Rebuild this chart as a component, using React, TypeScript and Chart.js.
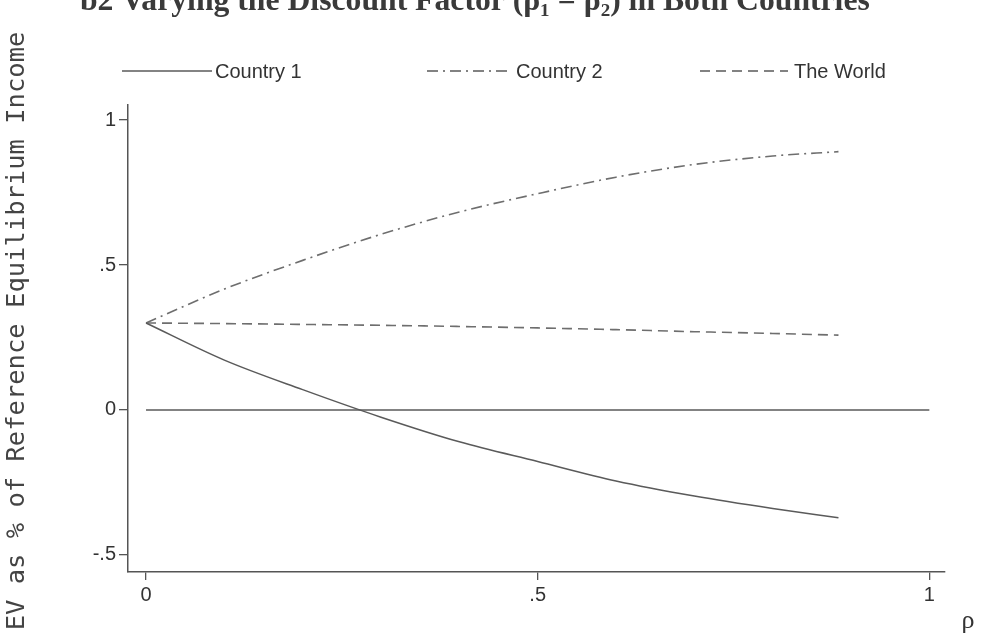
import React, { useEffect, useRef } from "react";
import { Chart, registerables } from "chart.js";

Chart.register(...registerables);

const rho = [0, 0.1, 0.2, 0.3, 0.4, 0.5, 0.6, 0.7, 0.8, 0.884];
const country1 = [0.3, 0.172, 0.07, -0.025, -0.11, -0.178, -0.245, -0.297, -0.34, -0.372];
const country2 = [0.3, 0.417, 0.516, 0.606, 0.683, 0.746, 0.803, 0.847, 0.876, 0.891];
const world = [0.3, 0.298, 0.295, 0.292, 0.288, 0.283, 0.277, 0.27, 0.264, 0.258];
const zeroX = [0, 1];
const zeroY = [0, 0];
const xTicks = [0, 0.5, 1];
const yTicks = [-0.5, 0, 0.5, 1];
const seriesLabels = ["Country 1", "Country 2", "The World"];
const titleText = "b2 Varying the Discount Factor (\u03c1\u2081 = \u03c1\u2082) in Both Countries";
const yTitle = "EV as % of Reference Equilibrium Income";
const xTitle = "\u03c1";

const SANS = "'Liberation Sans', Arial, sans-serif";
const LINE = "#5a5a5a";
const DASH_C2 = [11, 5, 2, 5];
const DASH_W = [10, 6];

const fmt = (v: number) => {
  if (v === 0) return "0";
  return String(v).replace("0.", ".");
};

const decorPlugin = {
  id: "decor",
  beforeDraw(chart: any) {
    const ctx = chart.ctx;
    ctx.save();
    ctx.fillStyle = "#ffffff";
    ctx.fillRect(0, 0, chart.width, chart.height);
    ctx.restore();
  },
  afterDraw(chart: any) {
    const ctx = chart.ctx;
    ctx.save();
    // title (cut off at top)
    ctx.fillStyle = "#3a3a3a";
    ctx.font = "bold 26px 'Liberation Serif', 'DejaVu Serif', serif";
    const w = ctx.measureText(titleText).width;
    const size = 26 * 790 / w;
    ctx.font = `bold ${size.toFixed(1)}px 'Liberation Serif', 'DejaVu Serif', serif`;
    ctx.textBaseline = "alphabetic";
    ctx.textAlign = "left";
    ctx.fillText(titleText, 80, 10);

    // legend
    const items = [
      { x1: 122, x2: 212, tx: 215, dash: [] as number[] },
      { x1: 427, x2: 512, tx: 516, dash: DASH_C2 },
      { x1: 700, x2: 788, tx: 794, dash: DASH_W },
    ];
    const ly = 71;
    items.forEach((it, i) => {
      ctx.strokeStyle = LINE;
      ctx.lineWidth = 1.5;
      ctx.setLineDash(it.dash);
      ctx.beginPath();
      ctx.moveTo(it.x1, ly);
      ctx.lineTo(it.x2, ly);
      ctx.stroke();
      ctx.setLineDash([]);
      ctx.fillStyle = "#333";
      ctx.font = `20px ${SANS}`;
      ctx.textBaseline = "middle";
      ctx.fillText(seriesLabels[i], it.tx, ly + 1);
    });

    // y axis title
    ctx.save();
    ctx.translate(24, 331);
    ctx.rotate(-Math.PI / 2);
    ctx.font = "25.5px 'DejaVu Sans Mono', monospace";
    ctx.fillStyle = "#444";
    ctx.textAlign = "center";
    ctx.textBaseline = "alphabetic";
    ctx.fillText(yTitle, 0, 0);
    ctx.restore();

    // x axis title
    ctx.font = "26px 'Liberation Serif', 'DejaVu Serif', serif";
    ctx.fillStyle = "#333";
    ctx.textAlign = "center";
    ctx.textBaseline = "alphabetic";
    ctx.fillText(xTitle, 968, 628);
    ctx.restore();
  },
};

export default function App() {
  const ref = useRef<HTMLCanvasElement>(null);
  useEffect(() => {
    if (!ref.current) return;
    const toPts = (ys: number[]) => rho.map((x, i) => ({ x, y: ys[i] }));
    const chart = new Chart(ref.current, {
      type: "line",
      data: {
        datasets: [
          {
            label: "zero",
            data: zeroX.map((x, i) => ({ x, y: zeroY[i] })),
            borderColor: LINE,
            borderWidth: 1.5,
            pointRadius: 0,
          },
          {
            label: seriesLabels[0],
            data: toPts(country1),
            borderColor: LINE,
            borderWidth: 1.5,
            pointRadius: 0,
            cubicInterpolationMode: "monotone",
          },
          {
            label: seriesLabels[1],
            data: toPts(country2),
            borderColor: "#6e6e6e",
            borderWidth: 1.6,
            borderDash: DASH_C2,
            pointRadius: 0,
            cubicInterpolationMode: "monotone",
          },
          {
            label: seriesLabels[2],
            data: toPts(world),
            borderColor: "#6e6e6e",
            borderWidth: 1.6,
            borderDash: DASH_W,
            pointRadius: 0,
            cubicInterpolationMode: "monotone",
          },
        ],
      } as any,
      options: {
        responsive: false,
        animation: false,
        layout: { padding: { left: 0, right: 45, top: 105, bottom: 0 } },
        plugins: { legend: { display: false }, tooltip: { enabled: false } },
        scales: {
          x: {
            type: "linear",
            min: -0.023,
            max: 1.02,
            afterBuildTicks: (s: any) => {
              s.ticks = xTicks.map((v) => ({ value: v }));
            },
            afterFit: (s: any) => {
              s.height = 63;
            },
            grid: { display: true, drawOnChartArea: false, drawTicks: true, tickLength: 8, color: "#555", lineWidth: 1.3 },
            border: { display: true, color: "#555", width: 1.5 },
            ticks: {
              color: "#333",
              font: { family: SANS, size: 20 },
              padding: 3,
              maxRotation: 0,
              callback: (v: any) => fmt(Number(v)),
            },
          },
          y: {
            type: "linear",
            min: -0.559,
            max: 1.052,
            afterBuildTicks: (s: any) => {
              s.ticks = yTicks.map((v) => ({ value: v }));
            },
            afterFit: (s: any) => {
              s.width = 128;
            },
            grid: { display: true, drawOnChartArea: false, drawTicks: true, tickLength: 9, color: "#555", lineWidth: 1.3 },
            border: { display: true, color: "#555", width: 1.5 },
            ticks: {
              color: "#333",
              font: { family: SANS, size: 20 },
              padding: 3,
              callback: (v: any) => fmt(Number(v)),
            },
          },
        },
      } as any,
      plugins: [decorPlugin],
    });
    return () => chart.destroy();
  }, []);
  return (
    <div style={{ position: "absolute", left: 0, top: 0, width: 990, height: 635, background: "#fff" }}>
      <canvas ref={ref} width={990} height={635} style={{ display: "block" }} />
    </div>
  );
}
